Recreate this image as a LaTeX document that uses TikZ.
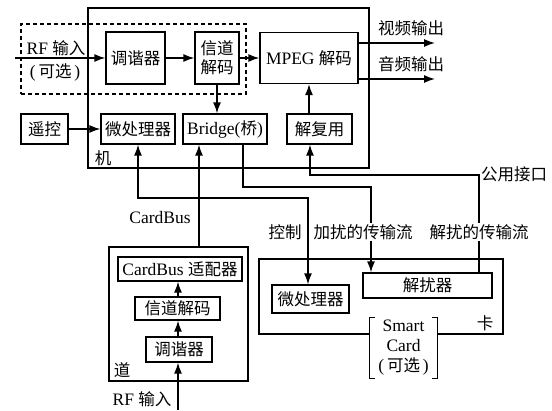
\documentclass[tikz,border=0pt]{standalone}
\usepackage{fontspec}
\setmainfont{Liberation Serif}[Scale=1.06]
\newfontfamily\cjk{Noto Sans CJK SC}
\usetikzlibrary{arrows.meta}
\begin{document}
\begin{tikzpicture}[x=1pt,y=-1pt,
  box/.style={draw,line width=1.3pt,inner sep=0pt,anchor=center,align=center,font=\fontsize{16.5}{19}\selectfont},
  frame/.style={draw,line width=1.3pt,inner sep=0pt,anchor=center},
  lbl/.style={inner sep=1pt,font=\fontsize{16.5}{19}\selectfont},
  wlbl/.style={lbl,fill=white},
  conn/.style={line width=1.3pt},
  arr/.style={conn,-{Latex[length=11pt,width=8pt]}},
  barr/.style={conn,{Latex[length=11pt,width=8pt]}-{Latex[length=11pt,width=8pt]}},
]
\useasboundingbox (0,0) rectangle (552,410);
% frames
\node[frame,minimum width=281pt,minimum height=160pt] (main) at (228.5,88) {};
\node[frame,dashed,dash pattern=on 4pt off 3pt,minimum width=225pt,minimum height=70pt] (opt) at (133.5,59) {};
\node[frame,minimum width=139pt,minimum height=134pt] (dao) at (178.5,314) {};
\node[frame,minimum width=244pt,minimum height=75pt] (card) at (381,296.5) {};
% top set-top box
\node[box,minimum width=59pt,minimum height=52pt] (tuner1) at (135.5,58) {\cjk 调谐器};
\node[box,minimum width=44pt,minimum height=52pt] (chdec1) at (217,58) {\cjk 信道\\\cjk 解码};
\node[box,minimum width=98pt,minimum height=51pt] (mpeg) at (309,58) {MPEG {\cjk 解码}};
\node[box,minimum width=65pt,minimum height=30pt] (demux) at (319.5,129) {\cjk 解复用};
\node[box,minimum width=47pt,minimum height=30pt] (remote) at (44.5,129) {\cjk 遥控};
\node[box,minimum width=74pt,minimum height=30pt] (cpu1) at (138,129) {\cjk 微处理器};
\node[box,minimum width=84pt,minimum height=30pt] (bridge) at (225,129) {Bridge({\cjk 桥})};
\node[lbl] (ji) at (103,158) {\cjk 机};
% RF input (top)
\coordinate (rfin) at (15,58);
\node[lbl,align=center] (rflbl) at (56,48) {RF {\cjk 输入}};
\node[lbl] (optlbl) at (55,72) {(\,{\cjk 可选}\,)};
\draw[arr] (rfin) -- (tuner1);
\draw[arr] (tuner1) -- (chdec1);
\draw[arr] (chdec1) -- (mpeg);
\draw[arr] (chdec1.south) -- (chdec1.south |- bridge.north);
\draw[arr] ([xshift=-10.5pt]demux.north) -- ([xshift=-10.5pt]demux.north |- mpeg.south);
\draw[arr] (remote) -- (cpu1);
% outputs
\coordinate (vout) at (435,43);
\coordinate (aout) at (435,79);
\draw[arr] (vout -| mpeg.east) -- (vout);
\draw[arr] (aout -| mpeg.east) -- (aout);
\node[lbl] (vlbl) at (411,28) {\cjk 视频输出};
\node[lbl] (albl) at (411,64) {\cjk 音频输出};
% card-side boxes
\node[box,minimum width=129pt,minimum height=25pt] (desc) at (427.5,285.5) {\cjk 解扰器};
\node[box,minimum width=77pt,minimum height=28pt] (cpu2) at (310.5,299) {\cjk 微处理器};
\node[lbl] (ka) at (485,323) {\cjk 卡};
% channel card
\node[box,minimum width=124pt,minimum height=24pt] (adapter) at (180,269) {CardBus {\cjk 适配器}};
\node[box,minimum width=85pt,minimum height=23pt] (chdec2) at (177.5,308.5) {\cjk 信道解码};
\node[box,minimum width=66pt,minimum height=25pt] (tuner2) at (179,349.5) {\cjk 调谐器};
\node[lbl] (dlbl) at (122,370) {\cjk 道};
\coordinate (rfin2) at (178,410);
\node[lbl] (rf2lbl) at (142,399) {RF {\cjk 输入}};
\draw[arr] (rfin2) -- (rfin2 |- tuner2.south);
\draw[arr] (tuner2.north -| rfin2) -- (chdec2.south -| rfin2);
\draw[arr] (chdec2.north -| rfin2) -- (adapter.south -| rfin2);
% CardBus
\coordinate (cb) at (199,200);
\draw[arr] (cb |- dao.north) -- (cb |- bridge.south);
\node[lbl] (cblbl) at (160,218) {CardBus};
% control
\coordinate (c1) at (138,198);
\coordinate (c2) at (308,198);
\draw[barr] (cpu1.south) -- (c1) -- (c2) -- (c2 |- cpu2.north);
% scrambled stream
\coordinate (s1) at (243,187);
\coordinate (s2) at (371,187);
\draw[arr] (s1 |- bridge.south) -- (s1) -- (s2) -- (s2 |- desc.north);
% descrambled stream
\coordinate (d1) at (479,175);
\coordinate (d2) at (310,175);
\draw[arr] (d1 |- desc.north) -- (d1) -- (d2) -- (d2 |- demux.south);
\node[lbl] (pub) at (514,174) {\cjk 公用接口};
% stream labels
\node[lbl] (ctl) at (285,232) {\cjk 控制};
\node[wlbl] (scr) at (363,232) {\cjk 加扰的传输流};
\node[wlbl] (dscr) at (479,232) {\cjk 解扰的传输流};
% smart card
\node[fill=white,inner sep=0pt,minimum width=67pt,minimum height=60pt,anchor=center] (sc) at (403.5,348) {};
\draw[conn] ([xshift=5pt]sc.north west) -- (sc.north west) -- (sc.south west) -- ([xshift=5pt]sc.south west);
\draw[conn] ([xshift=-5pt]sc.north east) -- (sc.north east) -- (sc.south east) -- ([xshift=-5pt]sc.south east);
\node[lbl,align=center,font=\fontsize{16.5}{20}\selectfont] (sctxt) at (sc) {Smart\\Card\\(\,{\cjk 可选}\,)};
\end{tikzpicture}
\end{document}
